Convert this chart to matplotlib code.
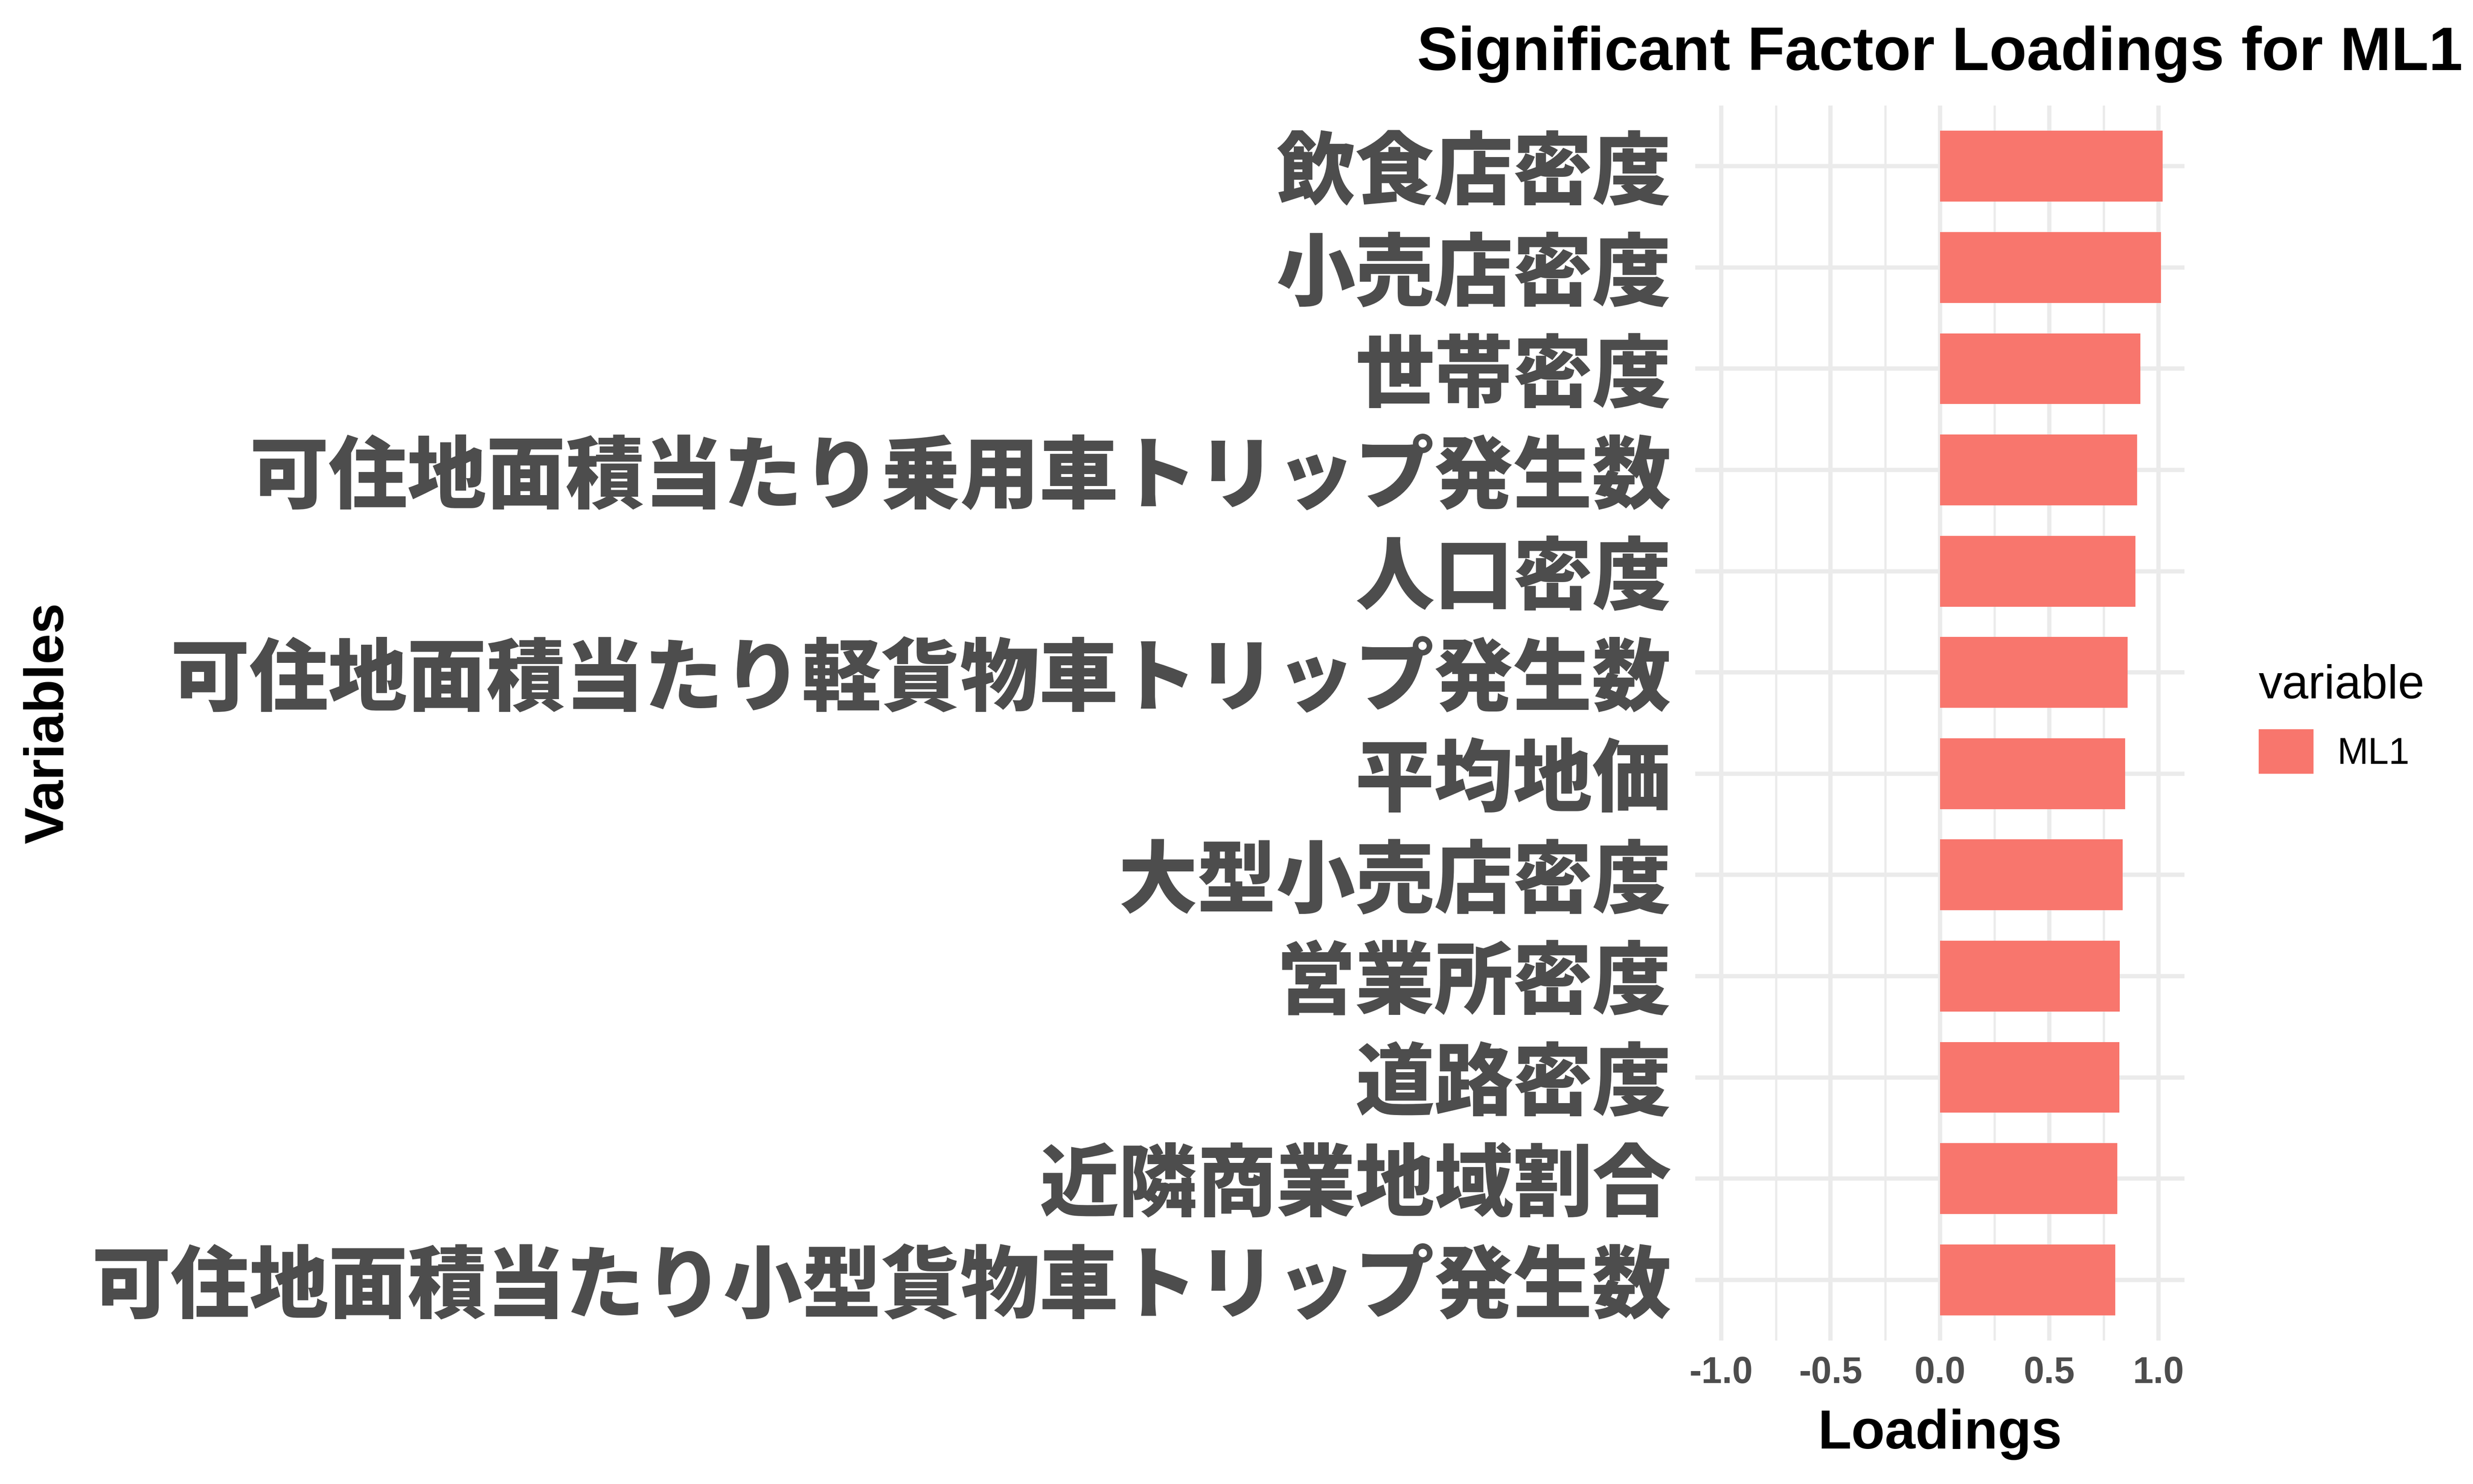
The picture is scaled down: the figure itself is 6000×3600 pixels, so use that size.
#!/usr/bin/env python3

import matplotlib
matplotlib.use('Agg')
import matplotlib.pyplot as plt
import matplotlib.ticker as tck
import numpy as np

plt.rcParams['font.family'] = ['Liberation Sans', 'DejaVu Sans']

# factor loadings on ML1, top of the chart first
variables = [
	'飲食店密度',
	'小売店密度',
	'世帯密度',
	'可住地面積当たり乗用車トリップ発生数',
	'人口密度',
	'可住地面積当たり軽貨物車トリップ発生数',
	'平均地価',
	'大型小売店密度',
	'営業所密度',
	'道路密度',
	'近隣商業地域割合',
	'可住地面積当たり小型貨物車トリップ発生数',
]
loadings = [1.019, 1.012, 0.917, 0.902, 0.895, 0.858, 0.847, 0.837, 0.823, 0.822, 0.811, 0.802]
factor = 'ML1'
x_ticks = [-1.0, -0.5, 0.0, 0.5, 1.0]
x_tick_labels = ['-1.0', '-0.5', '0.0', '0.5', '1.0']

W, H = 6000, 3600
fig = plt.figure(figsize=(20, 12), dpi=300)
ax = fig.add_axes([4113/W, 1 - 3252/H, (5300 - 4113)/W, (3252 - 256)/H])

grid_c = '#EBEBEB'
text_c = '#4D4D4D'

ypos = np.arange(len(variables))
bars = ax.barh(ypos, loadings, height=0.7, color='#F8766D', zorder=3)

ax.set_xlim(-1.119, 1.119)
ax.set_ylim(len(variables) - 0.4, -0.6)

ax.set_xticks(x_ticks, labels=x_tick_labels)
ax.xaxis.set_minor_locator(tck.FixedLocator([-0.75, -0.25, 0.25, 0.75]))
ax.set_yticks(ypos, labels=variables)

for lab in ax.get_xticklabels():
	lab.set_fontweight('bold')
	lab.set_fontsize(21.5)
	lab.set_color(text_c)
for lab in ax.get_yticklabels():
	lab.set_fontfamily(['Noto Sans CJK JP', 'DejaVu Sans'])
	lab.set_fontweight('heavy')
	lab.set_fontsize(46)
	lab.set_color(text_c)

ax.tick_params(axis='both', which='both', length=0)
ax.tick_params(axis='x', pad=9)
ax.tick_params(axis='y', pad=14)

ax.grid(True, which='major', axis='both', color=grid_c, linewidth=2.5, zorder=0)
ax.grid(True, which='minor', axis='x', color=grid_c, linewidth=1.3, zorder=0)
ax.set_axisbelow(True)
for s in ax.spines.values():
	s.set_visible(False)

ax.set_xlabel('Loadings', fontsize=32, fontweight='bold', color='black', va='baseline')
ax.xaxis.set_label_coords(0.5, ((H - 3514)/H - (1 - 3252/H)) / ((3252 - 256)/H))
ax.set_ylabel('Variables', fontsize=32, fontweight='bold', color='black', va='baseline')
ax.yaxis.set_label_coords((153 - 4113)/(5300 - 4113), 0.5)

ax.set_title('Significant Factor Loadings for ML1', fontsize=35.7, fontweight='bold',
	color='black', va='baseline', y=((H - 170)/H - (1 - 3252/H)) / ((3252 - 256)/H), pad=0)

leg = fig.legend(handles=[bars], labels=[factor], title='variable',
	loc='upper left', bbox_to_anchor=(5480/W, 1 - 1611/H), bbox_transform=fig.transFigure,
	fontsize=21.7, title_fontsize=27.6, frameon=False, borderpad=0, borderaxespad=0,
	handlelength=1.47, handleheight=1.47, handletextpad=0.64, labelspacing=0.56,
	alignment='left')

fig.savefig('out.png', dpi=300, facecolor='white')
